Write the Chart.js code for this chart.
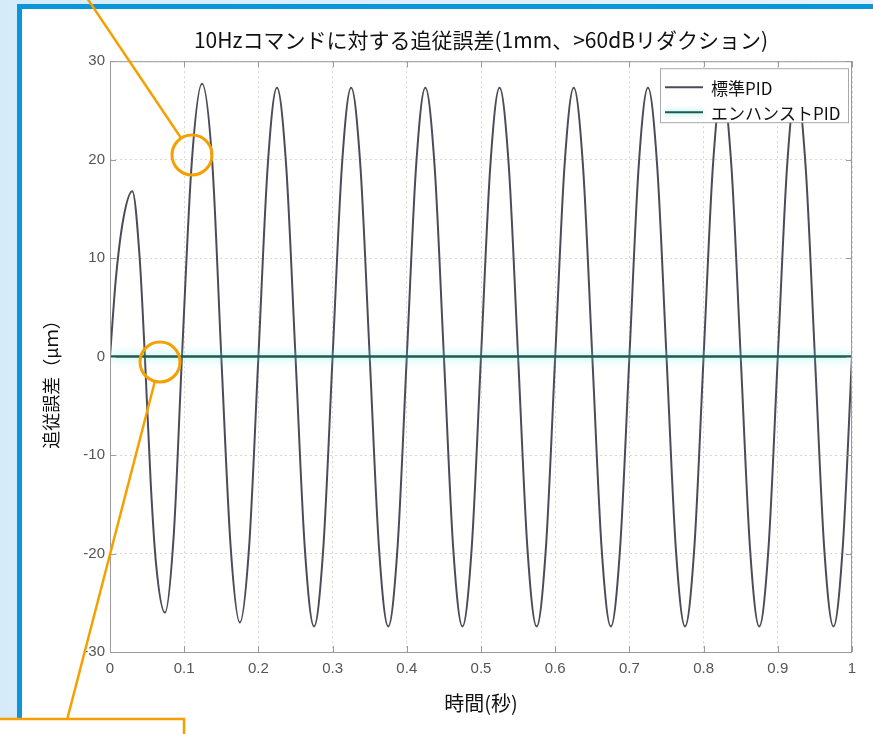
<!DOCTYPE html>
<html lang="ja">
<head>
    <meta charset="UTF-8">
    <title>追従誤差</title>
    <script src="https://cdn.jsdelivr.net/npm/chart.js"></script>
    <style>
        html, body { margin: 0; padding: 0; width: 873px; height: 734px; overflow: hidden; }
        body { background: linear-gradient(90deg, #d6ebf9 0%, #e6f3fc 100%); position: relative; }
        #frame {
            position: absolute; left: 17px; top: 4px; width: 900px; height: 760px;
            border: 5px solid #0a97d9; background: #ffffff; box-sizing: border-box;
        }
        #grafico { position: absolute; left: 0; top: 0; }
        #marcas { position: absolute; left: 0; top: 0; pointer-events: none; }
    </style>
</head>
<body>
    <div id="frame"></div>
    <canvas id="grafico" width="873" height="734"></canvas>
    <svg id="marcas" width="873" height="734">
        <line x1="87" y1="-2" x2="181" y2="138" stroke="#f5a000" stroke-width="2.5"/>
        <circle cx="192" cy="155" r="20" fill="none" stroke="#f5a000" stroke-width="3"/>
        <circle cx="160" cy="362" r="20" fill="none" stroke="#f5a000" stroke-width="3"/>
        <line x1="155" y1="381" x2="67" y2="720" stroke="#f5a000" stroke-width="2.5"/>
        <rect x="-3" y="719" width="187" height="30" fill="#ffffff" stroke="#f5a000" stroke-width="2.5"/>
    </svg>

    <script>
        // 時間軸(秒)と追従誤差(μm)
        const tiempos = [
            0, 0.008, 0.018, 0.03, 0.04, 0.047, 0.055, 0.062, 0.074, 0.086, 0.097,
            0.11, 0.124, 0.138, 0.15, 0.1625, 0.175, 0.1875, 0.2,
            0.2125, 0.225, 0.2375, 0.25, 0.2625, 0.275, 0.2875, 0.3,
            0.3125, 0.325, 0.3375, 0.35, 0.3625, 0.375, 0.3875, 0.4,
            0.4125, 0.425, 0.4375, 0.45, 0.4625, 0.475, 0.4875, 0.5,
            0.5125, 0.525, 0.5375, 0.55, 0.5625, 0.575, 0.5875, 0.6,
            0.6125, 0.625, 0.6375, 0.65, 0.6625, 0.675, 0.6875, 0.7,
            0.7125, 0.725, 0.7375, 0.75, 0.7625, 0.775, 0.7875, 0.8,
            0.8125, 0.825, 0.8375, 0.85, 0.8625, 0.875, 0.8875, 0.9,
            0.9125, 0.925, 0.9375, 0.95, 0.9625, 0.975, 0.9875, 1.0
        ];
        const errorEstandar = [
            0, 8, 14, 16.8, 10, 0, -13, -21, -26, -18, 0,
            19.5, 27.7, 19.5, 0, -19.2, -27.0, -19.3, 0,
            19.3, 27.3, 19.3, 0, -19.4, -27.4, -19.4, 0,
            19.3, 27.3, 19.3, 0, -19.4, -27.4, -19.4, 0,
            19.3, 27.3, 19.3, 0, -19.4, -27.4, -19.4, 0,
            19.3, 27.3, 19.3, 0, -19.4, -27.4, -19.4, 0,
            19.3, 27.3, 19.3, 0, -19.4, -27.4, -19.4, 0,
            19.3, 27.3, 19.3, 0, -19.4, -27.4, -19.4, 0,
            19.3, 27.3, 19.3, 0, -19.4, -27.4, -19.4, 0,
            19.3, 27.3, 19.3, 0, -19.4, -27.4, -19.4, 0
        ];
        const tiemposMejorado = [0, 1];
        const errorMejorado = [0, 0];

        const etiquetas = ['標準PID', 'エンハンストPID'];
        const titulo = '10Hzコマンドに対する追従誤差(1mm、>60dBリダクション)';
        const tituloX = '時間(秒)';
        const tituloY = '追従誤差（μｍ）';

        const fuenteJP = '"Noto Sans CJK JP", "Noto Sans", sans-serif';
        const fuenteTicks = '"Liberation Sans", sans-serif';
        const colorTicks = '#555555';

        // marco del área de trazado, marcas hacia dentro y leyenda encima de las curvas
        const marcoYLeyenda = {
            id: 'marcoYLeyenda',
            afterDatasetsDraw(chart) {
                const { ctx, chartArea: a, scales } = chart;
                ctx.save();
                ctx.strokeStyle = '#9a9a9a';
                ctx.lineWidth = 1;
                ctx.strokeRect(a.left + 0.5, a.top + 0.5, a.right - a.left - 1, a.bottom - a.top);

                ctx.beginPath();
                scales.x.ticks.forEach(t => {
                    const px = Math.round(scales.x.getPixelForValue(t.value)) + 0.5;
                    ctx.moveTo(px, a.bottom); ctx.lineTo(px, a.bottom - 6);
                    ctx.moveTo(px, a.top); ctx.lineTo(px, a.top + 6);
                });
                scales.y.ticks.forEach(t => {
                    const py = Math.round(scales.y.getPixelForValue(t.value)) + 0.5;
                    ctx.moveTo(a.left, py); ctx.lineTo(a.left + 6, py);
                    ctx.moveTo(a.right, py); ctx.lineTo(a.right - 6, py);
                });
                ctx.stroke();

                // leyenda
                const w = 188, h = 54;
                const x = a.right - 4 - w, y = a.top + 7;
                ctx.fillStyle = '#ffffff';
                ctx.fillRect(x, y, w, h);
                ctx.strokeStyle = '#a8a8a8';
                ctx.strokeRect(x + 0.5, y + 0.5, w, h);
                ctx.font = '17px ' + fuenteJP;
                ctx.textBaseline = 'middle';
                chart.data.datasets.forEach((ds, i) => {
                    const ly = y + 19 + i * 25;
                    ctx.save();
                    if (ds.halo) {
                        ctx.shadowColor = ds.halo;
                        ctx.shadowBlur = 6;
                    }
                    ctx.strokeStyle = ds.borderColor;
                    ctx.lineWidth = 2;
                    ctx.beginPath();
                    ctx.moveTo(x + 5, ly); ctx.lineTo(x + 43, ly);
                    ctx.stroke();
                    ctx.restore();
                    ctx.fillStyle = '#111111';
                    ctx.fillText(ds.label, x + 51, ly + 1);
                });

                // título del eje y
                ctx.translate(51, 380);
                ctx.rotate(-Math.PI / 2);
                ctx.textAlign = 'center';
                ctx.fillStyle = '#111111';
                ctx.font = '18px ' + fuenteJP;
                ctx.fillText(tituloY, 0, 0);
                ctx.restore();
            },
            beforeDatasetDraw(chart, args) {
                const ds = chart.data.datasets[args.index];
                if (ds.halo) {
                    chart.ctx.save();
                    chart.ctx.shadowColor = ds.halo;
                    chart.ctx.shadowBlur = 10;
                }
            },
            afterDatasetDraw(chart, args) {
                if (chart.data.datasets[args.index].halo) chart.ctx.restore();
            }
        };

        const ctx = document.getElementById('grafico').getContext('2d');
        new Chart(ctx, {
            type: 'line',
            data: {
                datasets: [{
                    label: etiquetas[0],
                    data: tiempos.map((t, i) => ({ x: t, y: errorEstandar[i] })),
                    borderColor: '#4c4b5a',
                    borderWidth: 2,
                    pointRadius: 0,
                    cubicInterpolationMode: 'monotone',
                    fill: false,
                    order: 2
                }, {
                    label: etiquetas[1],
                    data: tiemposMejorado.map((t, i) => ({ x: t, y: errorMejorado[i] })),
                    borderColor: '#23594f',
                    halo: 'rgba(100, 235, 225, 1)',
                    borderWidth: 2.5,
                    pointRadius: 0,
                    fill: false,
                    order: 1
                }]
            },
            options: {
                responsive: false,
                animation: false,
                layout: { padding: { left: 0, right: 21, top: 0, bottom: 0 } },
                plugins: {
                    legend: { display: false },
                    tooltip: { enabled: false },
                    title: {
                        display: true,
                        fullSize: false,
                        text: titulo,
                        color: '#111111',
                        font: { family: fuenteJP, size: 21, weight: 'normal' },
                        padding: { top: 27, bottom: 9 }
                    }
                },
                scales: {
                    x: {
                        type: 'linear',
                        min: 0,
                        max: 1,
                        ticks: {
                            stepSize: 0.1,
                            autoSkip: false,
                            maxRotation: 0,
                            padding: 8,
                            color: colorTicks,
                            font: { family: fuenteTicks, size: 15 },
                            callback: v => String(Number(v.toFixed(2)))
                        },
                        grid: { color: '#d6d6d6', drawTicks: false, lineWidth: 1 },
                        border: { display: false, dash: [2, 3] },
                        title: {
                            display: true,
                            text: tituloX,
                            color: '#111111',
                            font: { family: fuenteJP, size: 20 },
                            padding: { top: 0, bottom: 19 }
                        },
                        afterFit(scale) { scale.height = 82; }
                    },
                    y: {
                        min: -30,
                        max: 30,
                        ticks: {
                            stepSize: 10,
                            padding: 5,
                            color: colorTicks,
                            font: { family: fuenteTicks, size: 15 }
                        },
                        grid: { color: '#d6d6d6', drawTicks: false, lineWidth: 1 },
                        border: { display: false, dash: [2, 3] },
                        afterFit(scale) { scale.width = 110; }
                    }
                }
            },
            plugins: [marcoYLeyenda]
        });
    </script>
</body>
</html>
